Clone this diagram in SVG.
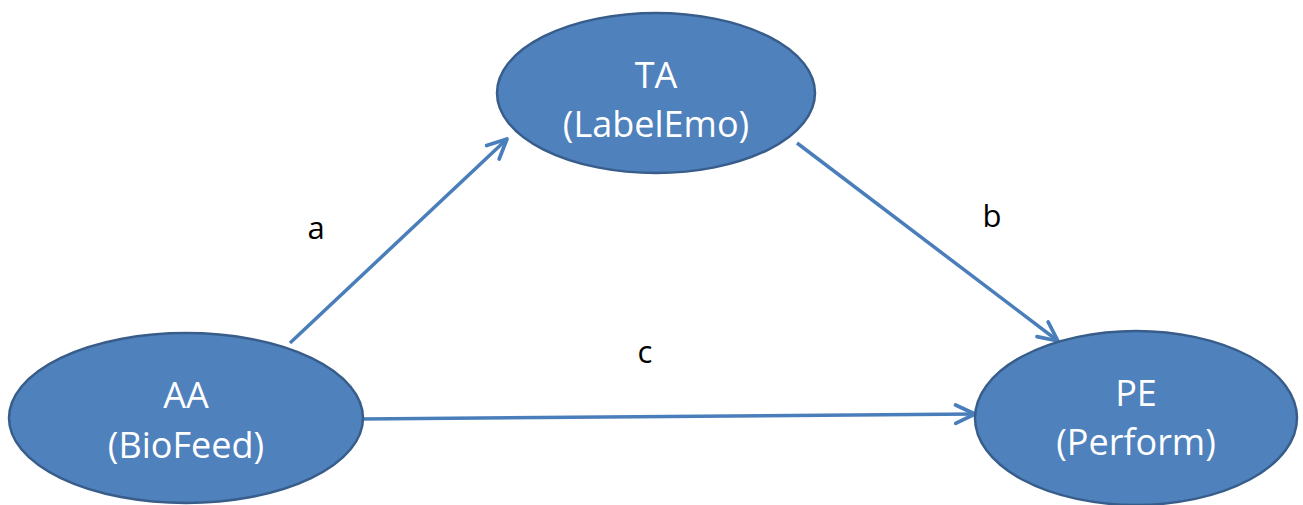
<svg xmlns="http://www.w3.org/2000/svg" width="1303" height="505" viewBox="0 0 1303 505">
  <defs>
    <style>
      .node ellipse { fill: #4F81BD; stroke: #385D8A; stroke-width: 2.5; }
      .node text { fill: #FFFFFF; font-family: "Open Sans", "Liberation Sans", Arial, sans-serif; font-size: 36px; text-anchor: middle; }
      .edge { fill: none; stroke: #4A7EBB; stroke-width: 3.5; marker-end: url(#open-arrow); }
      .label { fill: #000000; font-family: "Open Sans", "Liberation Sans", Arial, sans-serif; font-size: 31px; text-anchor: middle; }
    </style>
    <!-- open chevron arrowhead -->
    <marker id="open-arrow" viewBox="0 0 12 12" refX="10.5" refY="6" markerWidth="7" markerHeight="7" orient="auto" markerUnits="strokeWidth">
      <path d="M1,1.5 L10.5,6 L1,10.5" fill="none" stroke="#4A7EBB" stroke-width="1.8" stroke-linecap="round" stroke-linejoin="round"/>
    </marker>
  </defs>

  <rect width="1303" height="505" fill="#FFFFFF"/>

  <g id="connectors">
    <path class="edge" d="M290,343 L507,139"/>
    <path class="edge" d="M797,143 L1058,341"/>
    <path class="edge" d="M362,419 L975,414"/>
  </g>

  <g id="node-ta" class="node">
    <ellipse cx="656" cy="93" rx="159" ry="80"/>
    <text x="656" y="88">TA</text>
    <text x="656" y="137">(LabelEmo)</text>
  </g>

  <g id="node-aa" class="node">
    <ellipse cx="186" cy="418" rx="177" ry="85"/>
    <text x="186" y="408">AA</text>
    <text x="186" y="458">(BioFeed)</text>
  </g>

  <g id="node-pe" class="node">
    <ellipse cx="1136" cy="418" rx="161" ry="87"/>
    <text x="1136" y="406">PE</text>
    <text x="1136" y="455">(Perform)</text>
  </g>

  <g id="edge-labels">
    <text class="label" x="316" y="239">a</text>
    <text class="label" x="992" y="227">b</text>
    <text class="label" x="645" y="363">c</text>
  </g>
</svg>
